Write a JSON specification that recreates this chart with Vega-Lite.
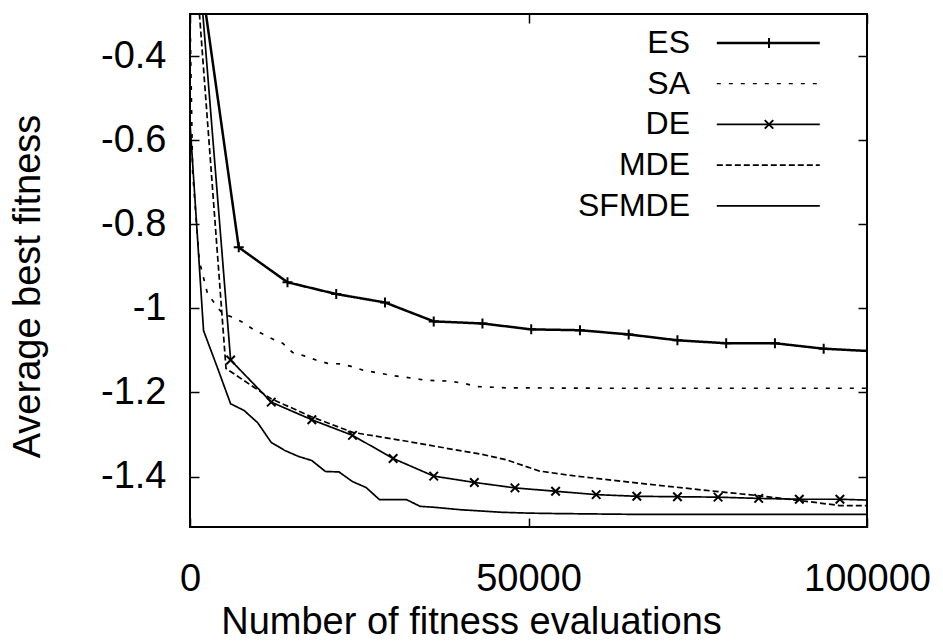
{
  "$schema": "https://vega.github.io/schema/vega-lite/v6.json",
  "width": 677,
  "height": 513,
  "autosize": "none",
  "padding": {"left": 190, "top": 14, "right": 76, "bottom": 117},
  "background": "white",
  "config": {
    "view": {"stroke": "black", "strokeWidth": 2},
    "font": "Liberation Sans",
    "axis": {
      "domain": false, "grid": false,
      "tickColor": "black", "tickWidth": 1.5, "tickSize": -9,
      "labelColor": "black", "titleColor": "black",
      "labelFont": "Liberation Sans", "labelFontSize": 38,
      "titleFont": "Liberation Sans", "titleFontSize": 38, "titleFontWeight": "normal"
    }
  },
  "data": {
    "values": [
      {"alg": "ES", "evals": 0, "fitness": -0.03},
      {"alg": "ES", "evals": 7200, "fitness": -0.855},
      {"alg": "ES", "evals": 14400, "fitness": -0.938},
      {"alg": "ES", "evals": 21600, "fitness": -0.966},
      {"alg": "ES", "evals": 28800, "fitness": -0.986},
      {"alg": "ES", "evals": 36000, "fitness": -1.031},
      {"alg": "ES", "evals": 43200, "fitness": -1.036},
      {"alg": "ES", "evals": 50400, "fitness": -1.05},
      {"alg": "ES", "evals": 57600, "fitness": -1.052},
      {"alg": "ES", "evals": 64800, "fitness": -1.062},
      {"alg": "ES", "evals": 72000, "fitness": -1.076},
      {"alg": "ES", "evals": 79200, "fitness": -1.083},
      {"alg": "ES", "evals": 86400, "fitness": -1.083},
      {"alg": "ES", "evals": 93600, "fitness": -1.096},
      {"alg": "ES", "evals": 100800, "fitness": -1.102},

      {"alg": "SA", "evals": 0, "fitness": -0.3},
      {"alg": "SA", "evals": 380, "fitness": -0.673},
      {"alg": "SA", "evals": 1370, "fitness": -0.887},
      {"alg": "SA", "evals": 2600, "fitness": -0.966},
      {"alg": "SA", "evals": 4820, "fitness": -1.013},
      {"alg": "SA", "evals": 6300, "fitness": -1.021},
      {"alg": "SA", "evals": 7770, "fitness": -1.033},
      {"alg": "SA", "evals": 9250, "fitness": -1.049},
      {"alg": "SA", "evals": 12210, "fitness": -1.073},
      {"alg": "SA", "evals": 13690, "fitness": -1.083},
      {"alg": "SA", "evals": 15160, "fitness": -1.105},
      {"alg": "SA", "evals": 16890, "fitness": -1.113},
      {"alg": "SA", "evals": 18620, "fitness": -1.123},
      {"alg": "SA", "evals": 20340, "fitness": -1.131},
      {"alg": "SA", "evals": 22070, "fitness": -1.132},
      {"alg": "SA", "evals": 23800, "fitness": -1.138},
      {"alg": "SA", "evals": 25760, "fitness": -1.148},
      {"alg": "SA", "evals": 27980, "fitness": -1.154},
      {"alg": "SA", "evals": 29950, "fitness": -1.16},
      {"alg": "SA", "evals": 31920, "fitness": -1.164},
      {"alg": "SA", "evals": 34380, "fitness": -1.17},
      {"alg": "SA", "evals": 36360, "fitness": -1.172},
      {"alg": "SA", "evals": 38330, "fitness": -1.173},
      {"alg": "SA", "evals": 40290, "fitness": -1.178},
      {"alg": "SA", "evals": 42510, "fitness": -1.186},
      {"alg": "SA", "evals": 46700, "fitness": -1.189},
      {"alg": "SA", "evals": 60000, "fitness": -1.19},
      {"alg": "SA", "evals": 80000, "fitness": -1.19},
      {"alg": "SA", "evals": 100000, "fitness": -1.19},

      {"alg": "DE", "evals": 0, "fitness": 0.08},
      {"alg": "DE", "evals": 6000, "fitness": -1.123},
      {"alg": "DE", "evals": 12000, "fitness": -1.223},
      {"alg": "DE", "evals": 18000, "fitness": -1.265},
      {"alg": "DE", "evals": 24000, "fitness": -1.302},
      {"alg": "DE", "evals": 30000, "fitness": -1.357},
      {"alg": "DE", "evals": 36000, "fitness": -1.399},
      {"alg": "DE", "evals": 42000, "fitness": -1.414},
      {"alg": "DE", "evals": 48000, "fitness": -1.427},
      {"alg": "DE", "evals": 54000, "fitness": -1.435},
      {"alg": "DE", "evals": 60000, "fitness": -1.443},
      {"alg": "DE", "evals": 66000, "fitness": -1.447},
      {"alg": "DE", "evals": 72000, "fitness": -1.448},
      {"alg": "DE", "evals": 78000, "fitness": -1.449},
      {"alg": "DE", "evals": 84000, "fitness": -1.452},
      {"alg": "DE", "evals": 90000, "fitness": -1.454},
      {"alg": "DE", "evals": 96000, "fitness": -1.454},
      {"alg": "DE", "evals": 102000, "fitness": -1.457},

      {"alg": "MDE", "evals": 0, "fitness": 0.0},
      {"alg": "MDE", "evals": 5320, "fitness": -1.143},
      {"alg": "MDE", "evals": 11970, "fitness": -1.215},
      {"alg": "MDE", "evals": 18120, "fitness": -1.259},
      {"alg": "MDE", "evals": 24030, "fitness": -1.295},
      {"alg": "MDE", "evals": 32000, "fitness": -1.316},
      {"alg": "MDE", "evals": 38330, "fitness": -1.334},
      {"alg": "MDE", "evals": 42760, "fitness": -1.346},
      {"alg": "MDE", "evals": 46700, "fitness": -1.36},
      {"alg": "MDE", "evals": 51630, "fitness": -1.387},
      {"alg": "MDE", "evals": 56550, "fitness": -1.398},
      {"alg": "MDE", "evals": 66410, "fitness": -1.416},
      {"alg": "MDE", "evals": 76260, "fitness": -1.433},
      {"alg": "MDE", "evals": 83650, "fitness": -1.445},
      {"alg": "MDE", "evals": 91040, "fitness": -1.459},
      {"alg": "MDE", "evals": 95960, "fitness": -1.469},
      {"alg": "MDE", "evals": 100000, "fitness": -1.469},

      {"alg": "SFMDE", "evals": 0, "fitness": -0.559},
      {"alg": "SFMDE", "evals": 2000, "fitness": -1.053},
      {"alg": "SFMDE", "evals": 4000, "fitness": -1.139},
      {"alg": "SFMDE", "evals": 6000, "fitness": -1.227},
      {"alg": "SFMDE", "evals": 8000, "fitness": -1.243},
      {"alg": "SFMDE", "evals": 10000, "fitness": -1.272},
      {"alg": "SFMDE", "evals": 12000, "fitness": -1.319},
      {"alg": "SFMDE", "evals": 14000, "fitness": -1.338},
      {"alg": "SFMDE", "evals": 16000, "fitness": -1.352},
      {"alg": "SFMDE", "evals": 18000, "fitness": -1.362},
      {"alg": "SFMDE", "evals": 20000, "fitness": -1.388},
      {"alg": "SFMDE", "evals": 22000, "fitness": -1.389},
      {"alg": "SFMDE", "evals": 24000, "fitness": -1.412},
      {"alg": "SFMDE", "evals": 26000, "fitness": -1.426},
      {"alg": "SFMDE", "evals": 28000, "fitness": -1.455},
      {"alg": "SFMDE", "evals": 30000, "fitness": -1.455},
      {"alg": "SFMDE", "evals": 32000, "fitness": -1.455},
      {"alg": "SFMDE", "evals": 34000, "fitness": -1.471},
      {"alg": "SFMDE", "evals": 36000, "fitness": -1.473},
      {"alg": "SFMDE", "evals": 38000, "fitness": -1.476},
      {"alg": "SFMDE", "evals": 40000, "fitness": -1.479},
      {"alg": "SFMDE", "evals": 42000, "fitness": -1.481},
      {"alg": "SFMDE", "evals": 44000, "fitness": -1.483},
      {"alg": "SFMDE", "evals": 46000, "fitness": -1.485},
      {"alg": "SFMDE", "evals": 48000, "fitness": -1.486},
      {"alg": "SFMDE", "evals": 50000, "fitness": -1.487},
      {"alg": "SFMDE", "evals": 54000, "fitness": -1.488},
      {"alg": "SFMDE", "evals": 60000, "fitness": -1.489},
      {"alg": "SFMDE", "evals": 66000, "fitness": -1.49},
      {"alg": "SFMDE", "evals": 80000, "fitness": -1.49},
      {"alg": "SFMDE", "evals": 100000, "fitness": -1.49}
    ]
  },
  "layer": [
    {
      "mark": {"type": "line", "clip": true, "color": "black"},
      "encoding": {
        "x": {
          "field": "evals", "type": "quantitative",
          "scale": {"domain": [0, 100000], "nice": false, "zero": false},
          "axis": {
            "values": [0, 50000, 100000], "format": "d", "labelPadding": 42, "labelFlush": false,
            "title": "Number of fitness evaluations",
            "titleX": 281, "titleY": 95, "titleBaseline": "middle", "titleAlign": "center"
          }
        },
        "y": {
          "field": "fitness", "type": "quantitative",
          "scale": {"domain": [-1.52, -0.3], "nice": false, "zero": false},
          "axis": {
            "values": [-0.4, -0.6, -0.8, -1, -1.2, -1.4], "format": "~g",
            "labelExpr": "replace(datum.label, '\u2212', '-')", "labelPadding": 33,
            "title": "Average best fitness",
            "titleX": -162, "titleY": 272, "titleAngle": -90, "titleBaseline": "middle", "titleAlign": "center"
          }
        },
        "strokeWidth": {"condition": {"test": "datum.alg === 'ES'", "value": 2.5}, "value": 1.7},
        "strokeDash": {
          "field": "alg", "type": "nominal",
          "scale": {"domain": ["ES", "SA", "DE", "MDE", "SFMDE"], "range": [[1, 0], [4, 8], [1, 0], [6, 3], [1, 0]]},
          "legend": {
            "title": null, "orient": "none", "legendX": 562.3, "legendY": 13, "direction": "vertical",
            "padding": 0, "rowPadding": 8.7, "symbolType": "M-10.3,0L10.3,0", "symbolSize": 100,
            "symbolStrokeColor": "black", "symbolFillColor": "transparent", "symbolStrokeWidth": 1.7,
            "labelAlign": "right", "labelOffset": -94.3,
            "labelFont": "Liberation Sans", "labelFontSize": 32, "labelColor": "black", "labelBaseline": "middle",
            "encode": {"symbols": {"update": {"strokeWidth": {"signal": "datum.value === 'ES' ? 2.5 : (datum.value === 'SA' ? 1.3 : 1.7)"}}}}
          }
        }
      }
    },
    {
      "transform": [{"filter": "datum.alg === 'ES' || datum.alg === 'DE'"}],
      "mark": {"type": "point", "clip": true, "filled": false, "color": "black", "strokeWidth": 2, "size": 100, "opacity": 1},
      "encoding": {
        "x": {
          "field": "evals", "type": "quantitative",
          "axis": {"orient": "top", "values": [0, 50000, 100000], "labels": false, "title": null}
        },
        "y": {
          "field": "fitness", "type": "quantitative",
          "axis": {"orient": "right", "values": [-0.4, -0.6, -0.8, -1, -1.2, -1.4], "labels": false, "title": null}
        },
        "shape": {
          "field": "alg", "type": "nominal",
          "scale": {"domain": ["ES", "SA", "DE"], "range": ["M-1,0L1,0M0,-1L0,1", "M0,0", "M-0.85,-0.85L0.85,0.85M-0.85,0.85L0.85,-0.85"]},
          "legend": {
            "title": null, "orient": "none", "legendX": 563, "legendY": 13, "direction": "vertical",
            "padding": 0, "rowPadding": 8.7, "symbolSize": 100, "symbolStrokeWidth": 2,
            "symbolStrokeColor": "black", "symbolFillColor": "transparent", "labelOpacity": 0,
            "labelFont": "Liberation Sans", "labelFontSize": 32, "labelBaseline": "middle"
          }
        }
      }
    }
  ],
  "resolve": {"axis": {"x": "independent", "y": "independent"}}
}
